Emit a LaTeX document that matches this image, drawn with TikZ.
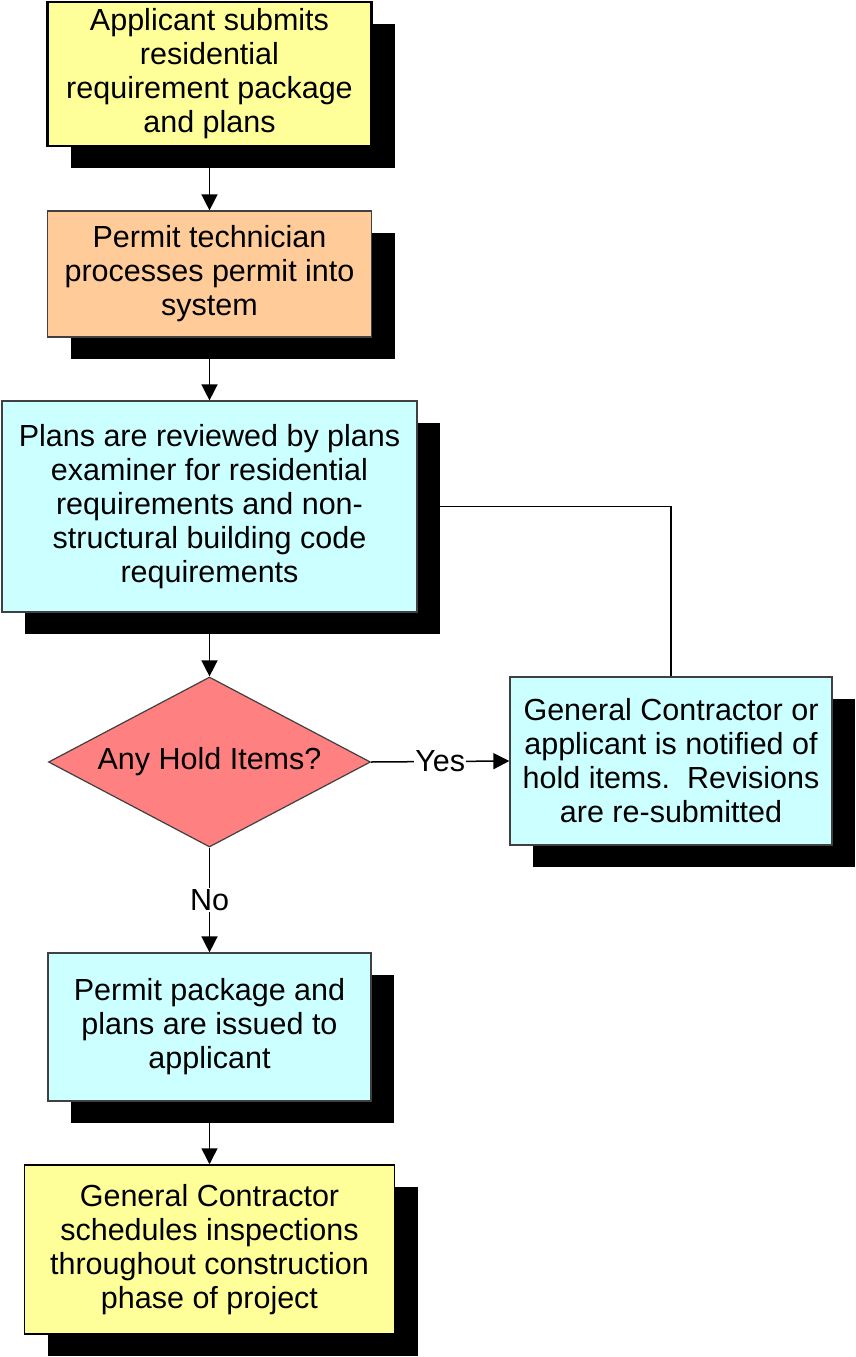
\documentclass[tikz,border=0pt]{standalone}
\usepackage{fontspec}
\setmainfont{Liberation Sans}
\usetikzlibrary{shapes.geometric,arrows.meta,shadows}
\pgfdeclarelayer{background}
\pgfsetlayers{background,main}
\definecolor{byellow}{HTML}{FFFF99}
\definecolor{borange}{HTML}{FFCC99}
\definecolor{bcyan}{HTML}{CCFFFF}
\definecolor{bred}{HTML}{FF8080}
\tikzset{
  txt/.style={font=\fontsize{30.5}{34}\selectfont},
  shad/.style={drop shadow={shadow xshift=23pt,shadow yshift=-22pt,fill=black,opacity=1}},
  stepbox/.style={txt,shad,draw=black!75,line width=1.2pt,align=center,inner sep=0pt},
  decision/.style={txt,diamond,draw=black!75,line width=1.2pt,fill=bred,inner sep=0pt,aspect=1.894},
  arr/.style={line width=1.5pt,-{Triangle[length=16pt,width=16pt]}},
  conn/.style={line width=1.5pt},
  lbl/.style={txt,fill=white,inner sep=1pt}
}
\begin{document}
\begin{tikzpicture}[x=1pt,y=-1pt]
\useasboundingbox (0,0) rectangle (855,1357);
\node[stepbox,fill=byellow,draw=black,line width=2.5pt,minimum width=324pt,minimum height=144pt] (b1) at (209.5,74)
  {Applicant submits\\residential\\requirement package\\and plans};
\node[stepbox,fill=borange,minimum width=324pt,minimum height=126pt] (b2) at (209.5,274)
  {Permit technician\\processes permit into\\system};
\node[stepbox,fill=bcyan,minimum width=415pt,minimum height=211pt] (b3) at (209.5,506.5)
  {Plans are reviewed by plans\\examiner for residential\\requirements and non-\\structural building code\\requirements};
\node[decision,minimum width=322pt,minimum height=170pt] (d) at (209.5,762) {Any Hold Items?};
\node[stepbox,fill=bcyan,minimum width=322pt,minimum height=168pt] (gc) at (671,761)
  {General Contractor or\\applicant is notified of\\hold items.\ \ Revisions\\are re-submitted};
\node[stepbox,fill=bcyan,minimum width=323pt,minimum height=148pt] (b5) at (209.5,1027)
  {Permit package and\\plans are issued to\\applicant};
\node[stepbox,fill=byellow,draw=black,line width=1.5pt,minimum width=370pt,minimum height=169pt] (b6) at (209.5,1249.5)
  {General Contractor\\schedules inspections\\throughout construction\\phase of project};
\begin{pgfonlayer}{background}
\draw[arr] (b1.south) -- (b2.north);
\draw[arr] (b2.south) -- (b3.north);
\draw[arr] (b3.south) -- (d.north);
\draw[arr] (d.east) -- node[lbl] {Yes} (gc.west);
\draw[arr] (d.south) -- node[lbl] {No} (b5.north);
\draw[arr] (b5.south) -- (b6.north);
\draw[conn] (gc.north) |- (b3.east);
\end{pgfonlayer}
\end{tikzpicture}
\end{document}
